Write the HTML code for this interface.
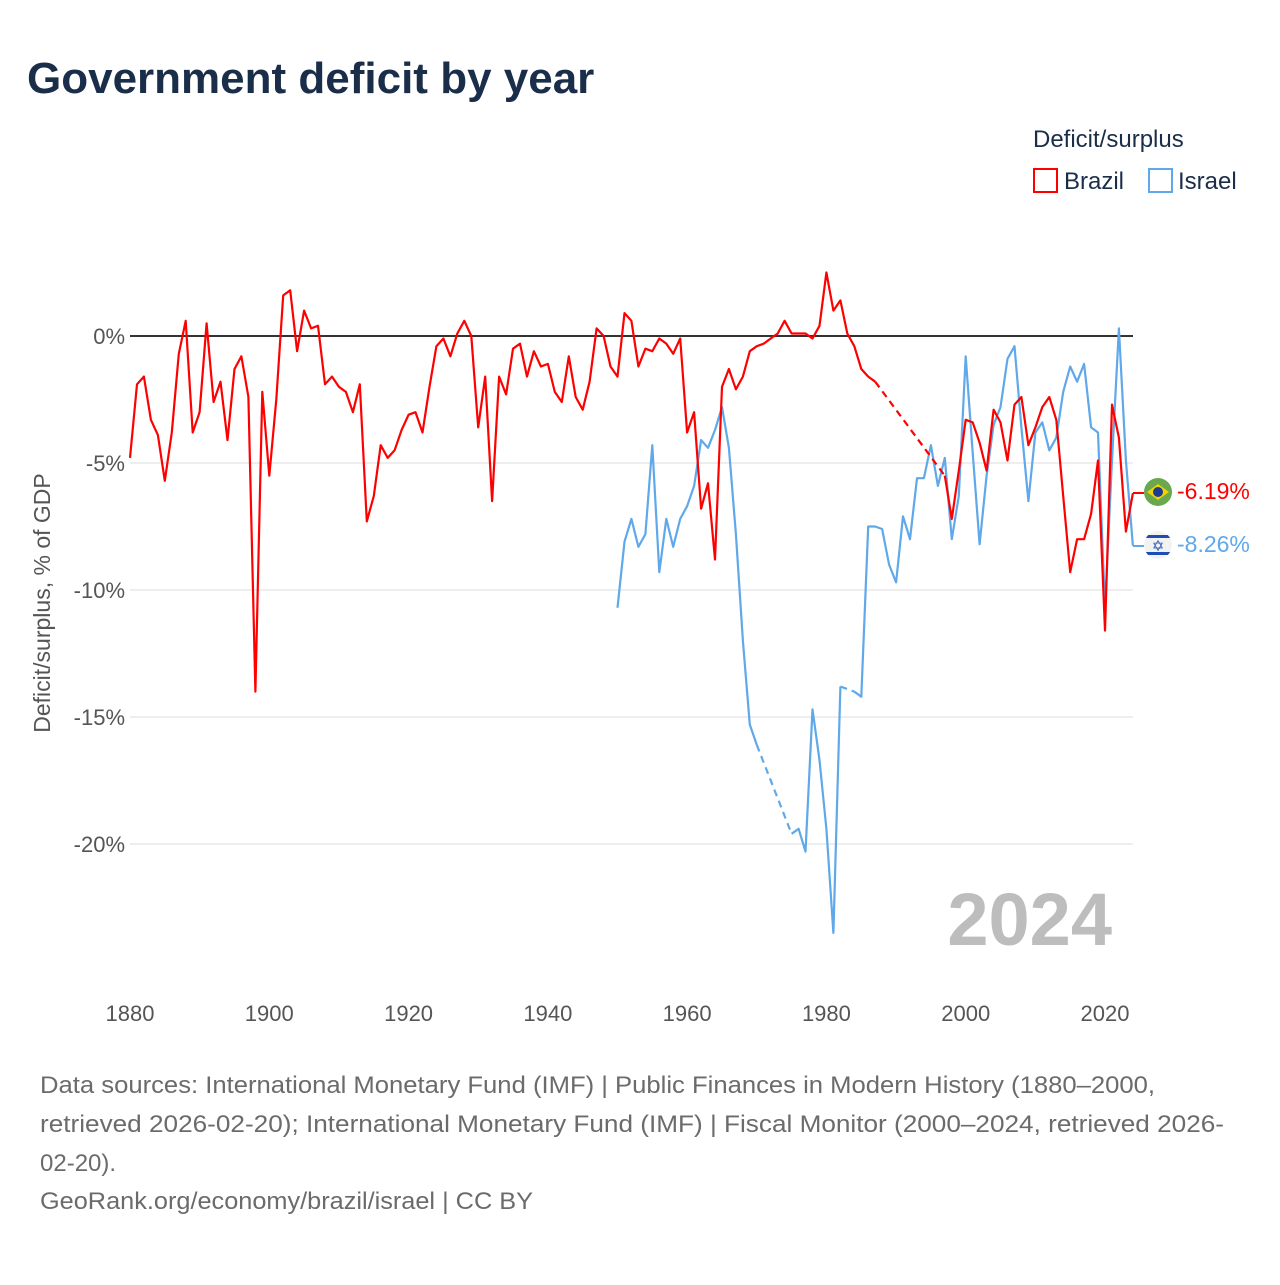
<!DOCTYPE html>
<html><head><meta charset="utf-8"><style>
body{margin:0;background:#fff;font-family:"Liberation Sans",sans-serif;}
svg text{font-family:"Liberation Sans",sans-serif;}
</style></head><body>
<svg id="chart" width="1280" height="1280" xmlns="http://www.w3.org/2000/svg">
<defs><clipPath id="ilclip"><circle cx="1158" cy="545" r="14"/></clipPath></defs>
<text x="27" y="93" font-size="44" font-weight="bold" fill="#1a2e4a">Government deficit by year</text>
<text x="1033" y="147" font-size="24" fill="#1a2e4a">Deficit/surplus</text>
<g><rect x="1034" y="169" width="23" height="23" fill="none" stroke="#f00" stroke-width="2"/><text x="1064" y="189" font-size="24" fill="#1a2e4a">Brazil</text></g>
<g><rect x="1149" y="169" width="23" height="23" fill="none" stroke="#5fa8ea" stroke-width="2"/><text x="1178" y="189" font-size="24" fill="#1a2e4a">Israel</text></g>
<g id="grid"></g>
<g id="marks"></g>
<text transform="translate(50,603) rotate(-90)" text-anchor="middle" font-size="23" fill="#555">Deficit/surplus, % of GDP</text>
<text x="1112" y="945" text-anchor="end" font-size="74" font-weight="bold" fill="#bdbdbd">2024</text>
<g>
<line x1="1133" y1="493" x2="1144" y2="493" stroke="#f00" stroke-width="2"/>
<circle cx="1158" cy="492" r="14" fill="#6aa84f"/><polygon points="1147,492 1158,484 1169,492 1158,500" fill="#f5d000"/><circle cx="1158" cy="492" r="5" fill="#1a3b8f"/>
<text x="1177" y="499" font-size="23" fill="#f00">-6.19%</text></g>
<g>
<line x1="1133" y1="546" x2="1144" y2="546" stroke="#5fa8ea" stroke-width="2"/>
<g clip-path="url(#ilclip)"><circle cx="1158" cy="545" r="14" fill="#f2f2f2"/><rect x="1144" y="535" width="28" height="3" fill="#1d4fb0"/><rect x="1144" y="552" width="28" height="3" fill="#1d4fb0"/></g><text x="1158" y="551" text-anchor="middle" font-size="15" fill="#1d4fb0">✡</text>
<text x="1177" y="552" font-size="23" fill="#5fa8ea">-8.26%</text></g>
<g font-size="24" fill="#6b6b6b">
<text x="40" y="1093" textLength="1115" lengthAdjust="spacingAndGlyphs">Data sources: International Monetary Fund (IMF) | Public Finances in Modern History (1880–2000,</text>
<text x="40" y="1132" textLength="1184" lengthAdjust="spacingAndGlyphs">retrieved 2026-02-20); International Monetary Fund (IMF) | Fiscal Monitor (2000–2024, retrieved 2026-</text>
<text x="40" y="1171">02-20).</text>
<text x="40" y="1209" textLength="493" lengthAdjust="spacingAndGlyphs">GeoRank.org/economy/brazil/israel | CC BY</text>
</g>
</svg>
<script>
const brazilStart = 1880;
const brazilValues = [-4.8,-1.9,-1.6,-3.3,-3.9,-5.7,-3.8,-0.7,0.6,-3.8,-3.0,0.5,-2.6,-1.8,-4.1,-1.3,-0.8,-2.4,-14.0,-2.2,
-5.5,-2.5,1.6,1.8,-0.6,1.0,0.3,0.4,-1.9,-1.6,-2.0,-2.2,-3.0,-1.9,-7.3,-6.3,-4.3,-4.8,-4.5,-3.7,
-3.1,-3.0,-3.8,-2.0,-0.4,-0.1,-0.8,0.1,0.6,0.0,-3.6,-1.6,-6.5,-1.6,-2.3,-0.5,-0.3,-1.6,-0.6,-1.2,
-1.1,-2.2,-2.6,-0.8,-2.4,-2.9,-1.8,0.3,0.0,-1.2,-1.6,0.9,0.6,-1.2,-0.5,-0.6,-0.1,-0.3,-0.7,-0.1,
-3.8,-3.0,-6.8,-5.8,-8.8,-2.0,-1.3,-2.1,-1.6,-0.6,-0.4,-0.3,-0.1,0.1,0.6,0.1,0.1,0.1,-0.1,0.4,
2.5,1.0,1.4,0.1,-0.4,-1.3,-1.6,-1.8,null,null,null,null,null,null,null,null,null,-5.5,-7.2,-5.3,
-3.3,-3.4,-4.2,-5.3,-2.9,-3.4,-4.9,-2.7,-2.4,-4.3,-3.6,-2.8,-2.4,-3.3,-6.3,-9.3,-8.0,-8.0,-7.0,-4.9,
-11.6,-2.7,-4.0,-7.7,-6.19];
const israelStart = 1950;
const israelValues = [-10.7,-8.1,-7.2,-8.3,-7.8,-4.3,-9.3,-7.2,-8.3,-7.2,-6.7,-5.9,-4.1,-4.4,-3.7,-2.8,-4.4,-7.8,-12.0,-15.3,
-16.1,null,null,null,null,-19.6,-19.4,-20.3,-14.7,-16.7,-19.4,-23.5,-13.8,null,-14.0,-14.2,-7.5,-7.5,-7.6,-9.0,
-9.7,-7.1,-8.0,-5.6,-5.6,-4.3,-5.9,-4.8,-8.0,-6.3,-0.8,-4.6,-8.2,-5.5,-3.5,-2.8,-0.9,-0.4,-3.6,-6.5,
-3.8,-3.4,-4.5,-4.0,-2.2,-1.2,-1.8,-1.1,-3.6,-3.8,-10.7,-4.9,0.3,-4.9,-8.26];
const yTicks = [0,-5,-10,-15,-20];
const xTicks = [1880,1900,1920,1940,1960,1980,2000,2020];

const NS = "http://www.w3.org/2000/svg";
const xs = yr => 130 + (yr - 1880) * (975 / 140);
const ys = v => 336 - v * 25.4;
const grid = document.getElementById('grid');
const marks = document.getElementById('marks');
function mk(tag, attrs, parent){const e=document.createElementNS(NS,tag);for(const k in attrs)e.setAttribute(k,attrs[k]);parent.appendChild(e);return e;}

yTicks.forEach(t=>{
  const l = mk('line',{x1:130,x2:1133,y1:ys(t),y2:ys(t),stroke:t===0?'#333':'#e8e8e8','stroke-width':t===0?2:1.5},grid);
  
  
  const tx = mk('text',{x:125,y:ys(t)+8,'text-anchor':'end','font-size':22,fill:'#555'},grid);
  tx.textContent = t + '%';
  
  
});
xTicks.forEach(t=>{
  const tx = mk('text',{x:xs(t),y:1021,'text-anchor':'middle','font-size':22,fill:'#555'},grid);
  tx.textContent = t;
  
  
});

function drawSeries(start, vals, color, name){
  let solid = '', dashed = '', prev = null, seg = '';
  vals.forEach((v,i)=>{
    if(v===null) return;
    const x = xs(start+i), y = ys(v);
    if(prev && prev.i === i-1){ seg += ' L'+x.toFixed(1)+' '+y.toFixed(1); }
    else {
      if(prev) dashed += 'M'+prev.x.toFixed(1)+' '+prev.y.toFixed(1)+' L'+x.toFixed(1)+' '+y.toFixed(1)+' ';
      solid += seg; seg = ' M'+x.toFixed(1)+' '+y.toFixed(1);
    }
    prev = {i,x,y};
  });
  solid += seg;
  const d = mk('path',{d:dashed,fill:'none',stroke:color,'stroke-width':2.2,'stroke-dasharray':'7 5'},marks);
  
  
  const p = mk('path',{d:solid,fill:'none',stroke:color,'stroke-width':2.2,'stroke-linejoin':'round'},marks);
  
  
}
drawSeries(israelStart, israelValues, '#5fa8ea', 'israel');
drawSeries(brazilStart, brazilValues, '#ff0000', 'brazil');
</script>
</body></html>
